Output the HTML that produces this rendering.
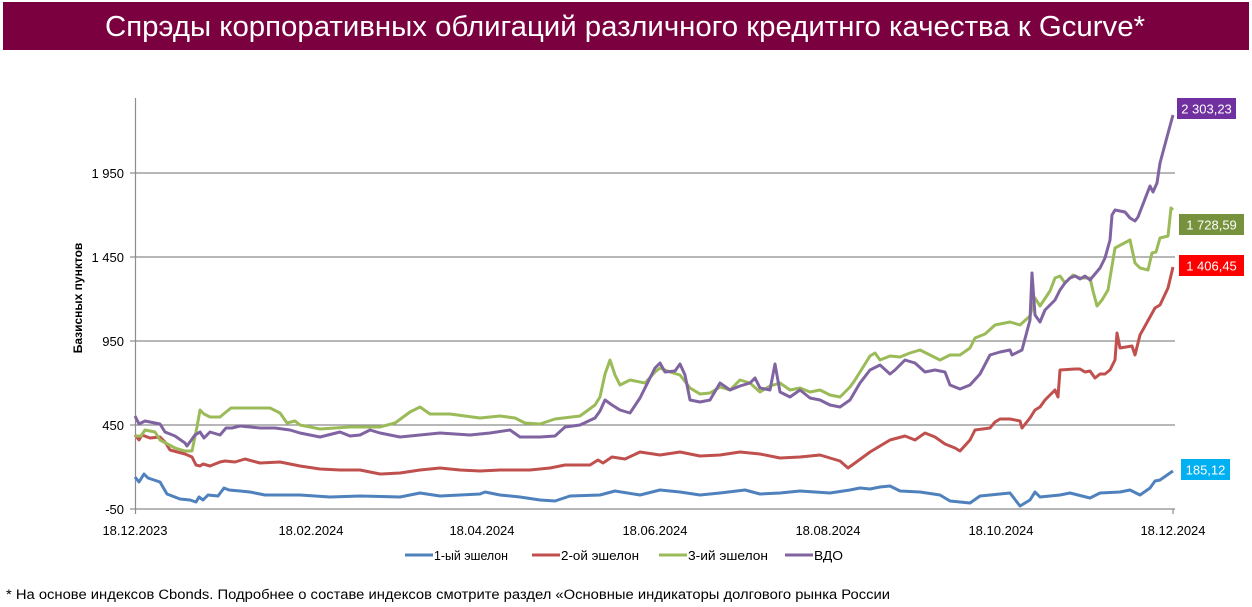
<!DOCTYPE html>
<html><head><meta charset="utf-8"><style>
html,body{margin:0;padding:0;background:#fff;width:1252px;height:607px;overflow:hidden}
svg{display:block}
</style></head><body>
<svg width="1252" height="607" viewBox="0 0 1252 607" xmlns="http://www.w3.org/2000/svg" font-family="'Liberation Sans', sans-serif">
<rect x="3" y="2" width="1246" height="48" fill="#7B003F"/>
<text x="105" y="36" fill="#fff" font-size="29" textLength="1040" lengthAdjust="spacingAndGlyphs">Спрэды корпоративных облигаций различного кредитнго качества к Gcurve*</text>
<g stroke="#8c8c8c" stroke-width="1.2">
<line x1="135" y1="173" x2="1175" y2="173"/>
<line x1="135" y1="257" x2="1175" y2="257"/>
<line x1="135" y1="341" x2="1175" y2="341"/>
<line x1="135" y1="425" x2="1175" y2="425"/>
<line x1="135" y1="509" x2="1175" y2="509"/>
<line x1="135.5" y1="98" x2="135.5" y2="509"/>
<line x1="130" y1="173" x2="135" y2="173"/><line x1="130" y1="257" x2="135" y2="257"/><line x1="130" y1="341" x2="135" y2="341"/><line x1="130" y1="425" x2="135" y2="425"/><line x1="130" y1="509" x2="135" y2="509"/>
<line x1="135.5" y1="509" x2="135.5" y2="514"/><line x1="1173" y1="509" x2="1173" y2="514"/>
</g>
<g font-size="13" fill="#000" text-anchor="end">
<text x="124" y="178">1 950</text><text x="124" y="262">1 450</text><text x="124" y="346">950</text><text x="124" y="430">450</text><text x="124" y="514">-50</text>
</g>
<text transform="translate(82,298) rotate(-90)" text-anchor="middle" font-size="12" font-weight="bold">Базисных пунктов</text>
<g font-size="13" text-anchor="middle">
<text x="135" y="535">18.12.2023</text><text x="311" y="535">18.02.2024</text><text x="482" y="535">18.04.2024</text><text x="655" y="535">18.06.2024</text><text x="828" y="535">18.08.2024</text><text x="1001" y="535">18.10.2024</text><text x="1173" y="535">18.12.2024</text>
</g>
<g fill="none" stroke-width="3" stroke-linejoin="round">
<polyline stroke="#4F81BD" points="135,477 139,482 144,474 148,478 160,482 167,494 180,499 190,500 196,502 199,497 203,500 208,495 218,496 224,488 229,490 240,491 250,492 265,495 300,495 330,497 360,496 400,497 420,493 440,496 480,494 485,492 500,495 520,497 540,500 555,501 570,496 600,495 615,491 640,495 660,490 680,492 700,495 720,493 745,490 760,494 780,493 800,491 830,493 850,490 860,488 870,489 880,487 890,486 900,491 920,492 940,495 950,501 970,503 980,496 1000,494 1010,493 1020,506 1030,500 1035,492 1040,497 1060,495 1070,493 1090,498 1100,493 1120,492 1130,490 1140,495 1150,488 1155,481 1160,480 1170,473 1173,471"/>
<polyline stroke="#C0504D" points="135,435 139,440 142,435 150,438 160,437 165,442 170,450 185,454 192,457 196,465 200,466 203,464 210,466 220,462 225,461 235,462 245,459 260,463 280,462 300,466 320,469 340,470 360,470 380,474 400,473 420,470 440,468 460,470 480,471 500,470 530,470 550,468 565,465 590,465 598,460 603,463 612,457 625,459 640,452 660,455 680,452 700,456 720,455 740,452 760,454 780,458 800,457 820,455 840,461 848,468 855,463 870,452 890,440 905,436 915,440 925,433 935,437 945,444 955,448 960,451 970,440 975,430 990,428 995,422 1000,419 1010,419 1020,421 1022,428 1030,418 1035,410 1040,407 1045,400 1050,395 1055,390 1058,397 1060,370 1075,369 1080,369 1085,372 1090,371 1095,378 1100,374 1105,374 1110,370 1115,360 1117,333 1120,348 1132,346 1135,355 1140,335 1150,317 1155,308 1160,305 1168,288 1173,267"/>
<polyline stroke="#9BBB59" points="135,436 141,436 145,430 155,432 160,440 175,448 185,451 192,451 197,427 200,410 204,414 210,417 220,417 226,412 231,408 240,408 260,408 270,408 280,413 287,423 295,421 300,425 320,429 350,427 380,427 395,423 410,412 420,407 430,414 450,414 480,418 500,416 515,418 525,423 540,424 555,419 580,416 595,405 600,397 605,374 610,360 615,375 620,385 630,380 645,383 655,372 660,368 670,372 680,375 690,388 700,394 710,393 720,387 730,390 740,380 750,383 760,392 770,386 780,383 790,390 800,388 810,392 820,390 830,395 840,397 850,387 855,380 870,356 875,353 880,360 890,356 900,357 910,353 920,350 930,355 940,360 950,355 960,355 970,348 975,338 985,334 995,325 1010,322 1020,325 1030,316 1035,298 1040,306 1050,291 1055,278 1060,276 1065,283 1073,275 1080,278 1090,278 1093,291 1097,306 1102,300 1108,290 1115,248 1130,240 1135,263 1140,268 1148,270 1152,253 1156,252 1160,238 1168,236 1171,208 1173,210"/>
<polyline stroke="#8064A2" points="135,416 139,424 145,421 160,424 165,432 175,436 185,443 187,446 195,435 200,432 204,438 210,432 220,435 226,428 232,428 240,426 260,428 275,428 290,430 300,433 320,437 340,432 350,436 360,435 370,430 380,433 395,436 400,437 420,435 440,433 470,435 490,433 510,430 520,437 540,437 555,436 565,427 580,425 595,418 600,411 605,400 612,405 620,410 630,413 640,398 655,368 660,363 665,372 675,371 680,364 685,375 690,400 700,402 710,400 720,383 730,390 740,386 750,383 755,378 760,388 770,390 775,364 780,392 790,397 800,390 810,398 820,400 830,405 840,407 850,400 860,383 870,370 880,365 890,374 895,370 905,360 915,363 925,372 935,370 945,372 950,385 960,389 970,385 980,374 990,355 1000,352 1010,350 1012,355 1022,350 1030,320 1032,273 1035,315 1040,322 1045,310 1055,300 1060,290 1065,283 1070,278 1075,276 1080,279 1085,276 1090,280 1100,268 1105,258 1110,240 1112,215 1115,210 1125,212 1130,218 1135,221 1138,217 1150,186 1153,192 1157,183 1160,163 1167,137 1173,115"/>
</g>
<g font-size="13" fill="#fff" text-anchor="middle">
<rect x="1177" y="98" width="59" height="21" fill="#7030A0"/><text x="1206.5" y="113.5">2 303,23</text>
<rect x="1179" y="214" width="65" height="21" fill="#76923C"/><text x="1211.5" y="229.5">1 728,59</text>
<rect x="1179" y="255" width="65" height="21" fill="#FF0000"/><text x="1211.5" y="270.5">1 406,45</text>
<rect x="1181" y="459" width="49" height="21" fill="#00B0F0"/><text x="1205.5" y="474.5">185,12</text>
</g>
<g font-size="13" fill="#000">
<line x1="405" y1="555" x2="433" y2="555" stroke="#4F81BD" stroke-width="3"/><text x="434" y="560" textLength="74" lengthAdjust="spacingAndGlyphs">1-ый эшелон</text>
<line x1="532" y1="555" x2="560" y2="555" stroke="#C0504D" stroke-width="3"/><text x="561" y="560" textLength="78" lengthAdjust="spacingAndGlyphs">2-ой эшелон</text>
<line x1="659" y1="555" x2="687" y2="555" stroke="#9BBB59" stroke-width="3"/><text x="688" y="560" textLength="80" lengthAdjust="spacingAndGlyphs">3-ий эшелон</text>
<line x1="785" y1="555" x2="813" y2="555" stroke="#8064A2" stroke-width="3"/><text x="814" y="560" textLength="29" lengthAdjust="spacingAndGlyphs">ВДО</text>
</g>
<text x="6" y="599" font-size="13.5" fill="#000" textLength="884" lengthAdjust="spacingAndGlyphs">* На основе индексов Cbonds. Подробнее о составе индексов смотрите раздел «Основные индикаторы долгового рынка России</text>
</svg>
</body></html>
